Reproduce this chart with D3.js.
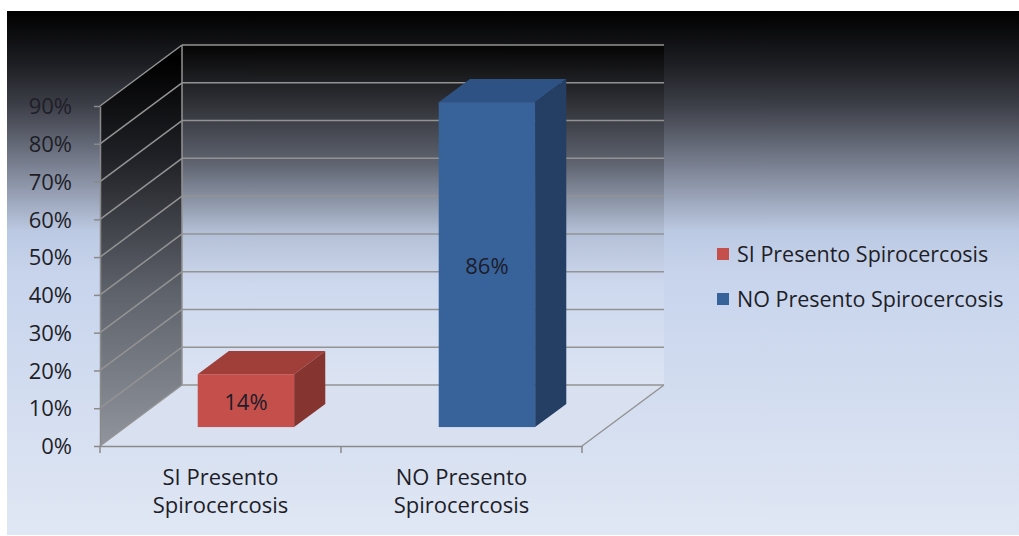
<!DOCTYPE html>
<html>
<head>
<meta charset="utf-8">
<script src="https://cdn.jsdelivr.net/npm/d3@7"></script>
<style>
body { margin: 0; background: #ffffff; }
svg { display: block; }
svg text { font-family: "Open Sans", Lato, sans-serif; }
.axis text { font-size: 22px; fill: #1e1e28; }
.axis path, .axis line { stroke: #8a8a8a; stroke-width: 1.5; }
.grid line { stroke: #939393; stroke-width: 1.5; }
.lbl { font-size: 22px; fill: #1c1c2a; text-anchor: middle; }
.legend text { font-size: 21.5px; fill: #1e1e28; }
</style>
</head>
<body>
<div class="target"></div>
<script>
// data
var categories = ["SI Presento Spirocercosis", "NO Presento Spirocercosis"];
var categoryLines = [["SI Presento", "Spirocercosis"], ["NO Presento", "Spirocercosis"]];
var values = [14, 86];
var yTicks = [0, 10, 20, 30, 40, 50, 60, 70, 80, 90];
var frontColors = ["#c5504b", "#38639a"];
var topColors = ["#a03f3a", "#2d5283"];
var sideColors = ["#85342f", "#243f63"];

var W = 1019, H = 536;
var depth = {dx: 82, dy: -61};   // full depth of the floor
var barZ = [0.31, 0.69];          // bar sits in the middle of the depth

var svg = d3.select(".target").append("svg")
  .attr("width", W).attr("height", H);

var defs = svg.append("defs");
function grad(id, x1, y1, x2, y2, stops) {
  var g = defs.append("linearGradient").attr("id", id)
    .attr("gradientUnits", "userSpaceOnUse")
    .attr("x1", x1).attr("y1", y1).attr("x2", x2).attr("y2", y2);
  stops.forEach(function(s) {
    g.append("stop").attr("offset", s[0]).attr("stop-color", s[1]);
  });
}
grad("bg", 0, 11, 0, 535, [[0, "#000000"], [0.1, "#1d1e23"], [0.18, "#3d3f48"], [0.3, "#7c8394"], [0.42, "#bcc9e2"], [0.5, "#c7d4ec"], [1, "#e0e7f4"]]);
grad("wall", 0, 45, 0, 385, [[0, "#040404"], [0.15, "#2a2b30"], [0.35, "#5f6470"], [0.55, "#b3bfd6"], [0.7, "#cdd8ee"], [1, "#dce4f3"]]);
grad("side", 0, 60, 0, 446, [[0, "#000000"], [0.25, "#202126"], [0.6, "#5e626b"], [1, "#90949c"]]);

svg.append("rect").attr("x", 7).attr("y", 11).attr("width", W - 7).attr("height", 524)
  .attr("fill", "url(#bg)");

var x = d3.scaleBand().domain(categories).range([100, 582]);
var y = d3.scaleLinear().domain([0, 90]).range([446, 106]);
var yMax = d3.max(yTicks);

function P(px, v, z) {
  return [px + z * depth.dx, y(v) + z * depth.dy];
}
var x0 = x.range()[0], x1 = x.range()[1];

// back wall, side wall, floor
svg.append("polygon")
  .attr("points", [P(x0, 0, 1), P(x1, 0, 1), P(x1, yMax, 1), P(x0, yMax, 1)].join(" "))
  .attr("fill", "url(#wall)");
svg.append("polygon")
  .attr("points", [P(x0, 0, 0), P(x0, 0, 1), P(x0, yMax, 1), P(x0, yMax, 0)].join(" "))
  .attr("fill", "url(#side)");
svg.append("polygon")
  .attr("points", [P(x0, 0, 0), P(x1, 0, 0), P(x1, 0, 1), P(x0, 0, 1)].join(" "))
  .attr("fill", "#d9e1f1");

// gridlines on back wall and side wall
var grid = svg.append("g").attr("class", "grid");
grid.selectAll(".gb").data(yTicks).enter().append("line")
  .attr("x1", function(d) { return P(x0, d, 1)[0]; })
  .attr("y1", function(d) { return P(x0, d, 1)[1]; })
  .attr("x2", function(d) { return P(x1, d, 1)[0]; })
  .attr("y2", function(d) { return P(x1, d, 1)[1]; });
grid.selectAll(".gs").data(yTicks).enter().append("line")
  .attr("x1", function(d) { return P(x0, d, 0)[0]; })
  .attr("y1", function(d) { return P(x0, d, 0)[1]; })
  .attr("x2", function(d) { return P(x0, d, 1)[0]; })
  .attr("y2", function(d) { return P(x0, d, 1)[1]; });
grid.append("line")
  .attr("x1", P(x0, yMax, 1)[0]).attr("y1", P(x0, 0, 1)[1])
  .attr("x2", P(x0, yMax, 1)[0]).attr("y2", P(x0, yMax, 1)[1]);
grid.append("line")
  .attr("x1", P(x1, 0, 0)[0]).attr("y1", P(x1, 0, 0)[1])
  .attr("x2", P(x1, 0, 1)[0]).attr("y2", P(x1, 0, 1)[1]);

// bars
var bars = svg.selectAll(".bar").data(values).enter().append("g").attr("class", "bar");
bars.each(function(v, i) {
  var g = d3.select(this);
  var bw = x.bandwidth() * 0.4;
  var bx = x(categories[i]) + (x.bandwidth() - bw) / 2;
  var za = barZ[0], zb = barZ[1];
  g.append("polygon")
    .attr("points", [P(bx, v, za), P(bx + bw, v, za), P(bx + bw, v, zb), P(bx, v, zb)].join(" "))
    .attr("fill", topColors[i]);
  g.append("polygon")
    .attr("points", [P(bx + bw, 0, za), P(bx + bw, 0, zb), P(bx + bw, v, zb), P(bx + bw, v, za)].join(" "))
    .attr("fill", sideColors[i]);
  var f0 = P(bx, v, za), f1 = P(bx + bw, 0, za);
  g.append("rect")
    .attr("x", f0[0]).attr("y", f0[1])
    .attr("width", f1[0] - f0[0]).attr("height", f1[1] - f0[1])
    .attr("fill", frontColors[i]);
  g.append("text").attr("class", "lbl")
    .attr("x", (f0[0] + f1[0]) / 2)
    .attr("y", (f0[1] + f1[1]) / 2 + 9)
    .text(v + "%");
});

// axes
var yAxis = svg.append("g").attr("class", "axis")
  .attr("transform", "translate(" + x0 + ",0)")
  .call(d3.axisLeft(y).tickValues(yTicks).tickSize(6).tickSizeOuter(0).tickPadding(22)
    .tickFormat(function(d) { return d + "%"; }));
yAxis.selectAll("text").attr("dy", "0.35em");

var xAxis = svg.append("g").attr("class", "axis")
  .attr("transform", "translate(0," + y(0) + ")")
  .call(d3.axisBottom(x).tickSize(0).tickSizeOuter(0).tickFormat(""));
var bounds = categories.map(function(c) { return x(c); }).concat([x1]);
xAxis.selectAll(".bt").data(bounds).enter().append("line")
  .attr("x1", function(d) { return d; }).attr("x2", function(d) { return d; })
  .attr("y1", 0).attr("y2", 7);
xAxis.selectAll(".cl").data(categories).enter().append("text")
  .attr("text-anchor", "middle")
  .attr("x", function(c) { return x(c) + x.bandwidth() / 2; })
  .each(function(c, i) {
    var t = d3.select(this);
    categoryLines[i].forEach(function(line, k) {
      t.append("tspan").attr("x", x(c) + x.bandwidth() / 2)
        .attr("y", 39 + k * 28).text(line);
    });
  });

// legend
var legend = svg.append("g").attr("class", "legend")
  .attr("transform", "translate(717,248)");
var item = legend.selectAll("g").data(categories).enter().append("g")
  .attr("transform", function(d, i) { return "translate(0," + i * 45 + ")"; });
item.append("rect").attr("width", 12).attr("height", 12)
  .attr("fill", function(d, i) { return frontColors[i]; });
item.append("text").attr("x", 20).attr("y", 14).text(function(d) { return d; });
</script>
</body>
</html>
